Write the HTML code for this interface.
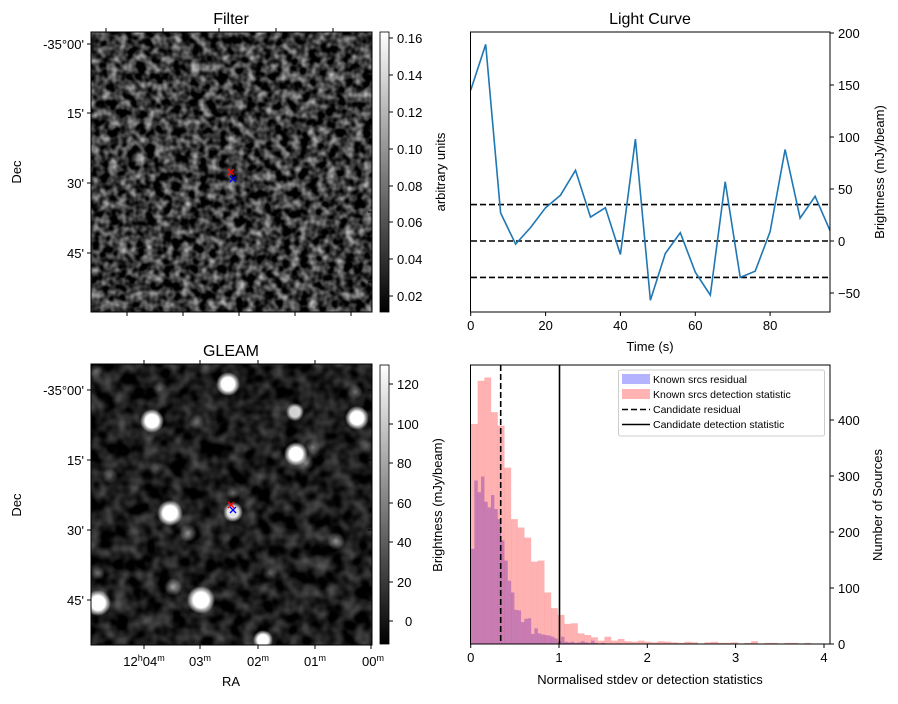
<!DOCTYPE html>
<html><head><meta charset="utf-8"><style>
body{margin:0;background:#fff;}
svg text{font-family:"Liberation Sans","DejaVu Sans",sans-serif;fill:#000;}
</style></head><body>
<svg id="s" width="898" height="699" viewBox="0 0 898 699" xmlns="http://www.w3.org/2000/svg">
<defs>
<filter id="n1" x="0" y="0" width="100%" height="100%" color-interpolation-filters="sRGB">
<feTurbulence type="fractalNoise" baseFrequency="0.11" numOctaves="2" seed="3"/>
<feColorMatrix type="matrix" values="1.3 0 0 0 -0.43  1.3 0 0 0 -0.43  1.3 0 0 0 -0.43  0 0 0 0 1"/>
</filter>
<filter id="n2" x="0" y="0" width="100%" height="100%" color-interpolation-filters="sRGB">
<feTurbulence type="fractalNoise" baseFrequency="0.07" numOctaves="2" seed="7"/>
<feColorMatrix type="matrix" values="0.6 0 0 0 -0.19  0.6 0 0 0 -0.19  0.6 0 0 0 -0.19  0 0 0 0 1"/>
</filter>
<radialGradient id="src"><stop offset="0" stop-color="#fff"/><stop offset="0.55" stop-color="#fff"/><stop offset="1" stop-color="#fff" stop-opacity="0"/></radialGradient>
<radialGradient id="srcf"><stop offset="0" stop-color="#fff" stop-opacity="0.6"/><stop offset="1" stop-color="#fff" stop-opacity="0"/></radialGradient>
<linearGradient id="cb" x1="0" y1="1" x2="0" y2="0"><stop offset="0" stop-color="#000"/><stop offset="1" stop-color="#fff"/></linearGradient>
<clipPath id="c2"><rect x="91" y="364" width="281" height="281"/></clipPath>
</defs>

<!-- Filter panel -->
<text x="231" y="24" font-size="16" text-anchor="middle">Filter</text>
<rect x="91" y="32" width="281" height="280" fill="#333" filter="url(#n1)"/>
<rect x="91" y="32" width="281" height="280" fill="none" stroke="#000" stroke-width="1"/>
<g stroke="#000" stroke-width="1">
<path d="M106 32v-4M163 32v-4M219 32v-4M276 32v-4M333 32v-4M127 312v4M183 312v4M239 312v4M295 312v4M351 312v4M91 44h-4M91 113h-4M91 183h-4M91 253h-4M372 72h-4M372 143h-4M372 212h-4M372 282h-4"/>
</g>
<path d="M228 169l6 6M234 169l-6 6" stroke="#f00" stroke-width="1.3"/>
<path d="M230 176l6 6M236 176l-6 6" stroke="#00f" stroke-width="1.3"/>
<g font-size="13" text-anchor="end">
<text x="84" y="49">-35°00'</text><text x="84" y="118">15'</text><text x="84" y="188">30'</text><text x="84" y="258">45'</text>
</g>
<text transform="translate(21,172) rotate(-90)" font-size="13" text-anchor="middle">Dec</text>
<rect x="380" y="32" width="9" height="280" fill="url(#cb)" stroke="#000" stroke-width="0.8"/>
<g stroke="#000"><path d="M389 38h4M389 75h4M389 112h4M389 149h4M389 186h4M389 222h4M389 259h4M389 296h4"/></g>
<g font-size="13">
<text x="397" y="43">0.16</text><text x="397" y="80">0.14</text><text x="397" y="117">0.12</text><text x="397" y="154">0.10</text><text x="397" y="191">0.08</text><text x="397" y="227">0.06</text><text x="397" y="264">0.04</text><text x="397" y="301">0.02</text>
</g>
<text transform="translate(445,172) rotate(-90)" font-size="13" text-anchor="middle">arbitrary units</text>

<!-- GLEAM panel -->
<text x="231" y="356" font-size="16" text-anchor="middle">GLEAM</text>
<rect x="91" y="364" width="281" height="281" fill="#222" filter="url(#n2)"/>
<g clip-path="url(#c2)" id="srcs"></g>
<rect x="91" y="364" width="281" height="281" fill="none" stroke="#000"/>
<g stroke="#000"><path d="M144 364v-4M200 364v-4M258 364v-4M315 364v-4M144 645v4M200 645v4M258 645v4M315 645v4M371 645v4M91 390h-4M91 460h-4M91 530h-4M91 600h-4M372 390h-4M372 460h-4M372 530h-4M372 600h-4"/></g>
<path d="M228 502l6 6M234 502l-6 6" stroke="#f00" stroke-width="1.3"/>
<path d="M230 507l6 6M236 507l-6 6" stroke="#00f" stroke-width="1.3"/>
<g font-size="13" text-anchor="end">
<text x="84" y="395">-35°00'</text><text x="84" y="465">15'</text><text x="84" y="535">30'</text><text x="84" y="605">45'</text>
</g>
<text transform="translate(21,505) rotate(-90)" font-size="13" text-anchor="middle">Dec</text>
<g font-size="13" text-anchor="middle">
<text x="144" y="666">12<tspan font-size="9" dy="-5">h</tspan><tspan dy="5">04</tspan><tspan font-size="9" dy="-5">m</tspan></text>
<text x="200" y="666">03<tspan font-size="9" dy="-5">m</tspan></text>
<text x="258" y="666">02<tspan font-size="9" dy="-5">m</tspan></text>
<text x="315" y="666">01<tspan font-size="9" dy="-5">m</tspan></text>
<text x="373" y="666">00<tspan font-size="9" dy="-5">m</tspan></text>
<text x="231" y="686">RA</text>
</g>
<rect x="380" y="365" width="9" height="279" fill="url(#cb)" stroke="#000" stroke-width="0.8"/>
<g stroke="#000"><path d="M389 384h4M389 424h4M389 463h4M389 503h4M389 542h4M389 582h4M389 621h4"/></g>
<g font-size="13">
<text x="397" y="389">120</text><text x="397" y="429">100</text><text x="397" y="468">80</text><text x="397" y="508">60</text><text x="397" y="547">40</text><text x="397" y="587">20</text><text x="405" y="626">0</text>
</g>
<text transform="translate(442,505) rotate(-90)" font-size="13" text-anchor="middle">Brightness (mJy/beam)</text>

<!-- Light curve -->
<text x="650" y="24" font-size="16" text-anchor="middle">Light Curve</text>
<g stroke="#000" stroke-width="1.6" stroke-dasharray="6,3">
<path d="M471 204.6H830M471 241H830M471 277.4H830"/>
</g>
<polyline id="lc" fill="none" stroke="#1f77b4" stroke-width="1.6"/>
<rect x="470.5" y="32" width="359.5" height="280" fill="none" stroke="#000"/>
<g stroke="#000"><path d="M470.7 312v4M545.6 312v4M620.4 312v4M695.3 312v4M770.1 312v4M830 33h4M830 85h4M830 137h4M830 189h4M830 241h4M830 293h4"/></g>
<g font-size="13" text-anchor="middle">
<text x="470.7" y="330">0</text><text x="545.6" y="330">20</text><text x="620.4" y="330">40</text><text x="695.3" y="330">60</text><text x="770.1" y="330">80</text>
<text x="650" y="351">Time (s)</text>
</g>
<g font-size="13">
<text x="838" y="38">200</text><text x="838" y="90">150</text><text x="838" y="142">100</text><text x="838" y="194">50</text><text x="838" y="246">0</text><text x="838" y="298">−50</text>
</g>
<text transform="translate(884,172) rotate(-90)" font-size="13" text-anchor="middle">Brightness (mJy/beam)</text>

<!-- Histogram -->
<g id="hist"></g>
<path d="M500.7 365V644" stroke="#000" stroke-width="1.6" stroke-dasharray="6,3"/>
<path d="M559.5 365V644" stroke="#000" stroke-width="1.6"/>
<rect x="470.5" y="365" width="359.5" height="279" fill="none" stroke="#000"/>
<g stroke="#000"><path d="M470.7 644v4M559 644v4M647.3 644v4M735.6 644v4M824 644v4M830 644h4M830 588h4M830 532h4M830 476h4M830 420h4"/></g>
<g font-size="13" text-anchor="middle">
<text x="470.7" y="662">0</text><text x="559" y="662">1</text><text x="647.3" y="662">2</text><text x="735.6" y="662">3</text><text x="824" y="662">4</text>
<text x="650" y="684">Normalised stdev or detection statistics</text>
</g>
<g font-size="13">
<text x="838" y="649">0</text><text x="838" y="593">100</text><text x="838" y="537">200</text><text x="838" y="481">300</text><text x="838" y="425">400</text>
</g>
<text transform="translate(882,505) rotate(-90)" font-size="13" text-anchor="middle">Number of Sources</text>
<rect x="618.5" y="370" width="206" height="66" rx="2" fill="#fff" fill-opacity="0.85" stroke="#ccc"/>
<rect x="622" y="374" width="28" height="10" fill="#b3b3ff"/>
<rect x="622" y="389" width="28" height="10" fill="#ffb3b3"/>
<path d="M622 409.5h28" stroke="#000" stroke-width="1.6" stroke-dasharray="6,3"/>
<path d="M622 424.5h28" stroke="#000" stroke-width="1.6"/>
<g font-size="10.5">
<text x="653" y="383">Known srcs residual</text>
<text x="653" y="398">Known srcs detection statistic</text>
<text x="653" y="413">Candidate residual</text>
<text x="653" y="428">Candidate detection statistic</text>
</g>
</svg>
<script>
var NS="http://www.w3.org/2000/svg";
function el(p,t,a){var e=document.createElementNS(NS,t);for(var k in a)e.setAttribute(k,a[k]);p.appendChild(e);return e;}
var v=[145,189,27,-3,13,32,44,68,23,32,-13,98,-57,-12,8,-30,-52,57,-35,-29,9,88,22,43,10];
document.getElementById('lc').setAttribute('points',v.map(function(y,i){return (470.7+i*4*3.743).toFixed(1)+','+(241-y*1.04).toFixed(1)}).join(' '));
var h=document.getElementById('hist');
var red=[393,470,476,414,390,315,223,208,190,147,149,92,64,52,36,37,19,16,12,6,13,6,9,5,4,6,4,3,5,4,3,2,4,3,0,3,4,2,2,3,0,2,5,0,2,2,0,2,2,0,2,0];
var blue=[170,292,271,299,254,244,266,241,223,185,149,113,92,61,60,39,45,46,18,28,19,17,16,15,13,10,5,13,4,3,4,2,3,5,3,2,6,2,1,2,1,1,0,1,1,0,1];
blue.forEach(function(c,i){if(c>0)el(h,'rect',{x:471+i*3.335,y:644-c*0.56,width:3.4,height:c*0.56,fill:'#0000ff','fill-opacity':0.3});});
red.forEach(function(c,i){if(c>0)el(h,'rect',{x:471+i*6.67,y:644-c*0.56,width:6.8,height:c*0.56,fill:'#ff0000','fill-opacity':0.3});});
var g=document.getElementById('srcs');
var S=[[228,384,12,1],[152,421,12,1],[295,412,9,0.8],[357,418,12,1],[296,454,12,1],[313,447,8,0.5],[306,463,8,0.45],[170,513,13,1],[233,512,10,0.9],[188,533,9,0.6],[336,541,9,0.6],[173,587,9,0.65],[201,600,14,1],[98,603,13,1],[263,640,10,1],[270,573,8,0.35],[355,392,8,0.45],[98,573,7,0.35],[110,476,8,0.35],[197,422,8,0.35],[160,389,8,0.3],[96,371,7,0.4],[233,493,7,0.35],[366,446,7,0.3],[157,468,7,0.25]];
S.forEach(function(s){el(g,'circle',{cx:s[0],cy:s[1],r:s[2],fill:s[3]>0.7?'url(#src)':'url(#srcf)',opacity:s[3]>0.7?s[3]:Math.min(1,s[3]*1.6)});});
</script>
</body></html>
